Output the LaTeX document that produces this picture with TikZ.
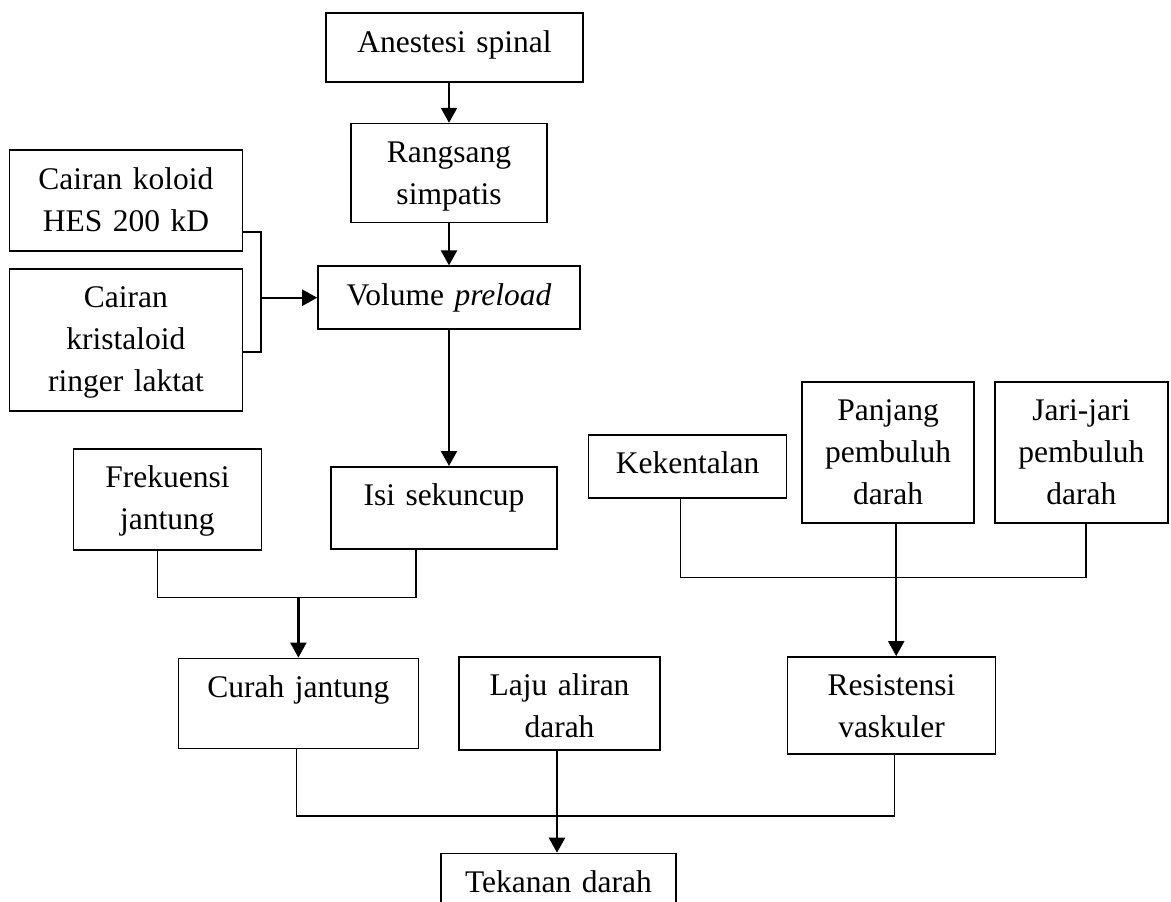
\documentclass[tikz,border=0pt]{standalone}
\usepackage{fontspec}
\setmainfont{Liberation Serif}
\usetikzlibrary{positioning, arrows.meta}
\tikzstyle{box} = [rectangle, draw=black, line width=1.6pt, inner sep=0pt, align=center, text height=39pt, font=\fontsize{31.5}{42}\selectfont]
\tikzstyle{link} = [line width=1.5pt]
\tikzstyle{arrow} = [line width=2.3pt, -{Triangle[length=15pt,width=16pt]}]
\tikzset{boxsize/.style 2 args={text width=#1, text depth=#2}}

\begin{document}
\begin{tikzpicture}[node distance=40pt]
        \useasboundingbox (0,0) rectangle (1171pt,-902pt);
        \node (anest) [box, boxsize={257pt}{30pt}] at (454.5pt,-47.5pt) {Anestesi spinal};
        \node (rang) [box, boxsize={196pt}{60pt}, below=40pt of anest, xshift=-5.5pt] {Rangsang\\simpatis};
        \node (vol) [box, boxsize={262pt}{24pt}, below=42pt of rang] {Volume \textit{preload}};
        \node (isi) [box, boxsize={226pt}{43pt}, below=136pt of vol, xshift=-5pt] {Isi sekuncup};
        \node (kol) [box, boxsize={233pt}{62pt}, left=74pt of vol, yshift=97pt] {Cairan koloid\\HES 200 kD};
        \node (kris) [box, boxsize={233pt}{103pt}, below=16pt of kol] {Cairan\\kristaloid\\ringer laktat};
        \node (frek) [box, boxsize={188pt}{62pt}, left=68pt of isi, yshift=8.5pt] {Frekuensi\\jantung};
        \node (curah) [box, boxsize={240pt}{51pt}, below=107pt of frek, xshift=131pt] {Curah jantung};
        \node (laju) [box, boxsize={201pt}{54pt}, right=39pt of curah] {Laju aliran\\darah};
        \node (resis) [box, boxsize={208pt}{58pt}, right=126pt of laju, yshift=-2pt] {Resistensi\\vaskuler};
        \node (tek) [box, boxsize={235pt}{24pt}, below=102pt of laju, xshift=-1pt] {Tekanan darah};
        \node (kek) [box, boxsize={198pt}{24pt}, right=30pt of isi, yshift=41.5pt] {Kekentalan};
        \node (panj) [box, boxsize={172pt}{102pt}, right=14pt of kek, yshift=14pt] {Panjang\\pembuluh\\darah};
        \node (jari) [box, boxsize={173pt}{102pt}, right=19pt of panj] {Jari-jari\\pembuluh\\darah};
        \draw [arrow] ([xshift=-5.5pt]anest.south) -- (rang.north);
        \draw [arrow] (rang.south) -- (vol.north);
        \draw [arrow] (vol.south) -- (vol.south |- isi.north);
        \draw [link] ([yshift=-31.5pt]kol.east) -- ++(18pt,0) coordinate (kb) |- ([yshift=-12pt]kris.east);
        \draw [arrow] (kb |- vol.west) -- (vol.west);
        \draw [link] ([xshift=-10pt]frek.south) -- ++(0,-47pt) coordinate (fj) -| ([xshift=-28pt]isi.south);
        \draw [arrow] (fj -| curah.north) -- (curah.north);
        \draw [link] ([xshift=-7pt]kek.south) -- ++(0,-79pt) -| ([xshift=4.5pt]jari.south);
        \draw [arrow] ([xshift=8pt]panj.south) -- ([xshift=8pt]panj.south |- resis.north);
        \draw [link] ([xshift=-2pt]curah.south) -- ++(0,-67pt) -| ([xshift=3pt]resis.south);
        \draw [arrow] ([xshift=-2.5pt]laju.south) -- ([xshift=-2.5pt]laju.south |- tek.north);
    \end{tikzpicture}
\end{document}
